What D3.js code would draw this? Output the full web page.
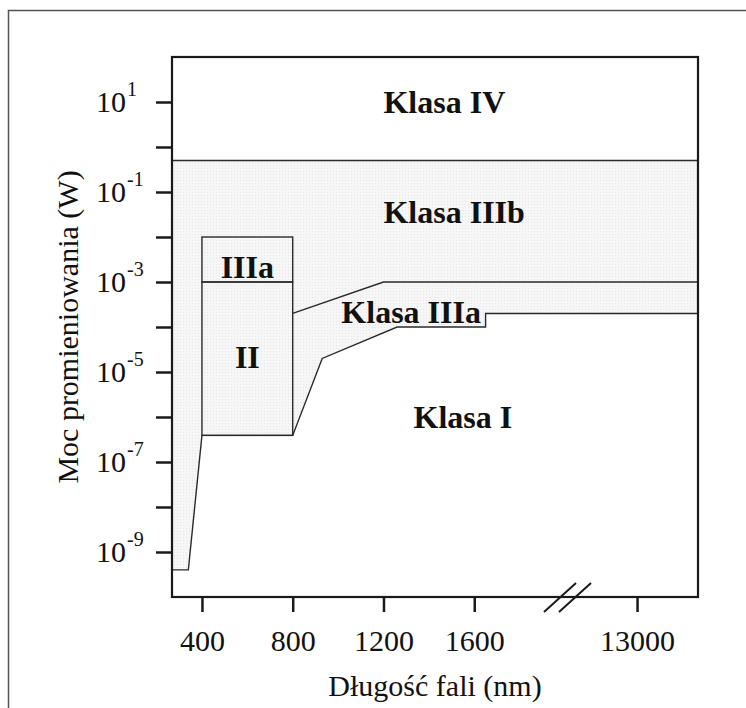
<!DOCTYPE html>
<html>
<head>
<meta charset="utf-8">
<script src="https://cdn.jsdelivr.net/npm/d3@7"></script>
<style>
  html, body { margin: 0; padding: 0; background: #fff; }
  svg { display: block; font-family: "Liberation Serif", "Times New Roman", serif; }
</style>
</head>
<body>
<svg id="chart" width="746" height="708"></svg>
<script>
// ---- data ----
const xTicks = [400, 800, 1200, 1600, 13000];
const yTickExponents = [1, 0, -1, -2, -3, -4, -5, -6, -7, -8, -9];
const yLabelExponents = [1, -1, -3, -5, -7, -9];

// Class I upper limit (lower boundary of shaded region)
const class1Lambda = [268, 340, 400, 800, 930, 1260, 1650, 1650, 13500];
const class1Power  = [4e-10, 4e-10, 3.9e-7, 3.9e-7, 2e-5, 1e-4, 1e-4, 2e-4, 2e-4];

// IIIa / IIIb boundary (infrared part)
const class3aLambda = [800, 1200, 13500];
const class3aPower  = [2e-4, 1e-3, 1e-3];

// Class IIIb / IV boundary
const class4Lambda = [268, 13500];
const class4Power  = [0.5, 0.5];

// Visible boxes: class II and class IIIa
const boxLambda = [400, 800];
const class2Power = [3.9e-7, 1e-3];
const box3aPower = [1e-3, 1e-2];

// Region labels
const labelText   = ["Klasa IV", "Klasa IIIb", "IIIa", "II", "Klasa IIIa", "Klasa I"];
const labelLambda = [1200, 1200, 600, 600, 1322, 1550];
const labelPower  = [5.7, 0.021, 1.2e-3, 1.2e-5, 1.23e-4, 5.7e-7];
const labelAnchor = ["start", "start", "middle", "middle", "middle", "middle"];

// ---- layout ----
const svg = d3.select("#chart");
const L = 172, R = 698, T = 57, B = 597, BRK = 570;

const x = d3.scaleLinear()
  .domain([268, 2022, 12450, 13500])
  .range([L, BRK, BRK, R]);
const y = d3.scaleLog().domain([1e-10, 1e2]).range([B, T]);

// outer border
svg.append("rect")
  .attr("x", 8.5).attr("y", 10.5).attr("width", 800).attr("height", 800)
  .attr("fill", "none").attr("stroke", "#555").attr("stroke-width", 1.5);

// pattern for shaded region
const defs = svg.append("defs");
const pat = defs.append("pattern").attr("id", "dots")
  .attr("patternUnits", "userSpaceOnUse").attr("width", 3).attr("height", 3);
pat.append("rect").attr("width", 3).attr("height", 3).attr("fill", "#f6f6f6");
pat.append("rect").attr("width", 1).attr("height", 1).attr("fill", "#e6e6e6");

// shaded polygon: between class I line and 0.5 W line
const lowerPts = class1Lambda.map((l, i) => [x(l), y(class1Power[i])]);
const upperPts = class4Lambda.map((l, i) => [x(l), y(class4Power[i])]).reverse();
svg.append("path")
  .attr("d", d3.line()(lowerPts.concat(upperPts)) + "Z")
  .attr("fill", "url(#dots)").attr("stroke", "none");

const line = d3.line().x(d => x(d[0])).y(d => y(d[1]));
const lineStyle = sel => sel.attr("fill", "none").attr("stroke", "#2a2a2a").attr("stroke-width", 1.4);

svg.append("path").datum(class1Lambda.map((l, i) => [l, class1Power[i]]))
  .attr("d", line).call(lineStyle);
svg.append("path").datum(class3aLambda.map((l, i) => [l, class3aPower[i]]))
  .attr("d", line).call(lineStyle);
svg.append("path").datum(class4Lambda.map((l, i) => [l, class4Power[i]]))
  .attr("d", line).call(lineStyle);

// boxes
[class2Power, box3aPower].forEach(p => {
  svg.append("rect")
    .attr("x", x(boxLambda[0])).attr("y", y(p[1]))
    .attr("width", x(boxLambda[1]) - x(boxLambda[0]))
    .attr("height", y(p[0]) - y(p[1]))
    .attr("fill", "none").attr("stroke", "#2a2a2a").attr("stroke-width", 1.4);
});

// labels
labelText.forEach((t, i) => {
  svg.append("text")
    .attr("x", x(labelLambda[i])).attr("y", y(labelPower[i]))
    .attr("text-anchor", labelAnchor[i])
    .attr("font-size", 32).attr("font-weight", "bold").attr("fill", "#111")
    .text(t);
});

// frame
svg.append("rect")
  .attr("x", L).attr("y", T).attr("width", R - L).attr("height", B - T)
  .attr("fill", "none").attr("stroke", "#1a1a1a").attr("stroke-width", 2.2);

// y axis
const yAxis = d3.axisLeft(y)
  .tickValues(yTickExponents.map(e => Math.pow(10, e)))
  .tickSize(16).tickFormat("");
const gy = svg.append("g").attr("transform", `translate(${L},0)`).call(yAxis);
gy.select(".domain").remove();
gy.selectAll(".tick line").attr("stroke", "#1a1a1a").attr("stroke-width", 2.5);

yLabelExponents.forEach(e => {
  svg.append("text")
    .attr("x", 126).attr("y", y(Math.pow(10, e)) + 10)
    .attr("font-size", 30).attr("fill", "#111").attr("text-anchor", "end")
    .text("10");
  svg.append("text")
    .attr("x", 127).attr("y", y(Math.pow(10, e)) - 6)
    .attr("font-size", 20).attr("fill", "#111").attr("text-anchor", "start")
    .text(e < 0 ? "-" + Math.abs(e) : String(e));
});

// x axis
const xAxis = d3.axisBottom(x).tickValues(xTicks).tickSize(15).tickFormat(d3.format("d"));
const gx = svg.append("g").attr("transform", `translate(0,${B})`).call(xAxis);
gx.select(".domain").remove();
gx.selectAll(".tick line").attr("stroke", "#1a1a1a").attr("stroke-width", 2.5);
gx.selectAll(".tick text")
  .attr("font-family", "Liberation Serif, serif")
  .attr("font-size", 30).attr("fill", "#111").attr("dy", null).attr("y", 54);

// axis break marks
[0, 15].forEach(dx => {
  svg.append("line")
    .attr("x1", BRK - 26 + dx).attr("y1", B + 15)
    .attr("x2", BRK + 6 + dx).attr("y2", B - 14)
    .attr("stroke", "#1a1a1a").attr("stroke-width", 2);
});

// axis titles
svg.append("text")
  .attr("x", (L + R) / 2).attr("y", 696)
  .attr("text-anchor", "middle").attr("font-size", 30).attr("fill", "#111")
  .text("Długość fali (nm)");
svg.append("text")
  .attr("transform", `translate(78,${(T + B) / 2}) rotate(-90)`)
  .attr("text-anchor", "middle").attr("font-size", 30).attr("fill", "#111")
  .text("Moc promieniowania (W)");
</script>
</body>
</html>
